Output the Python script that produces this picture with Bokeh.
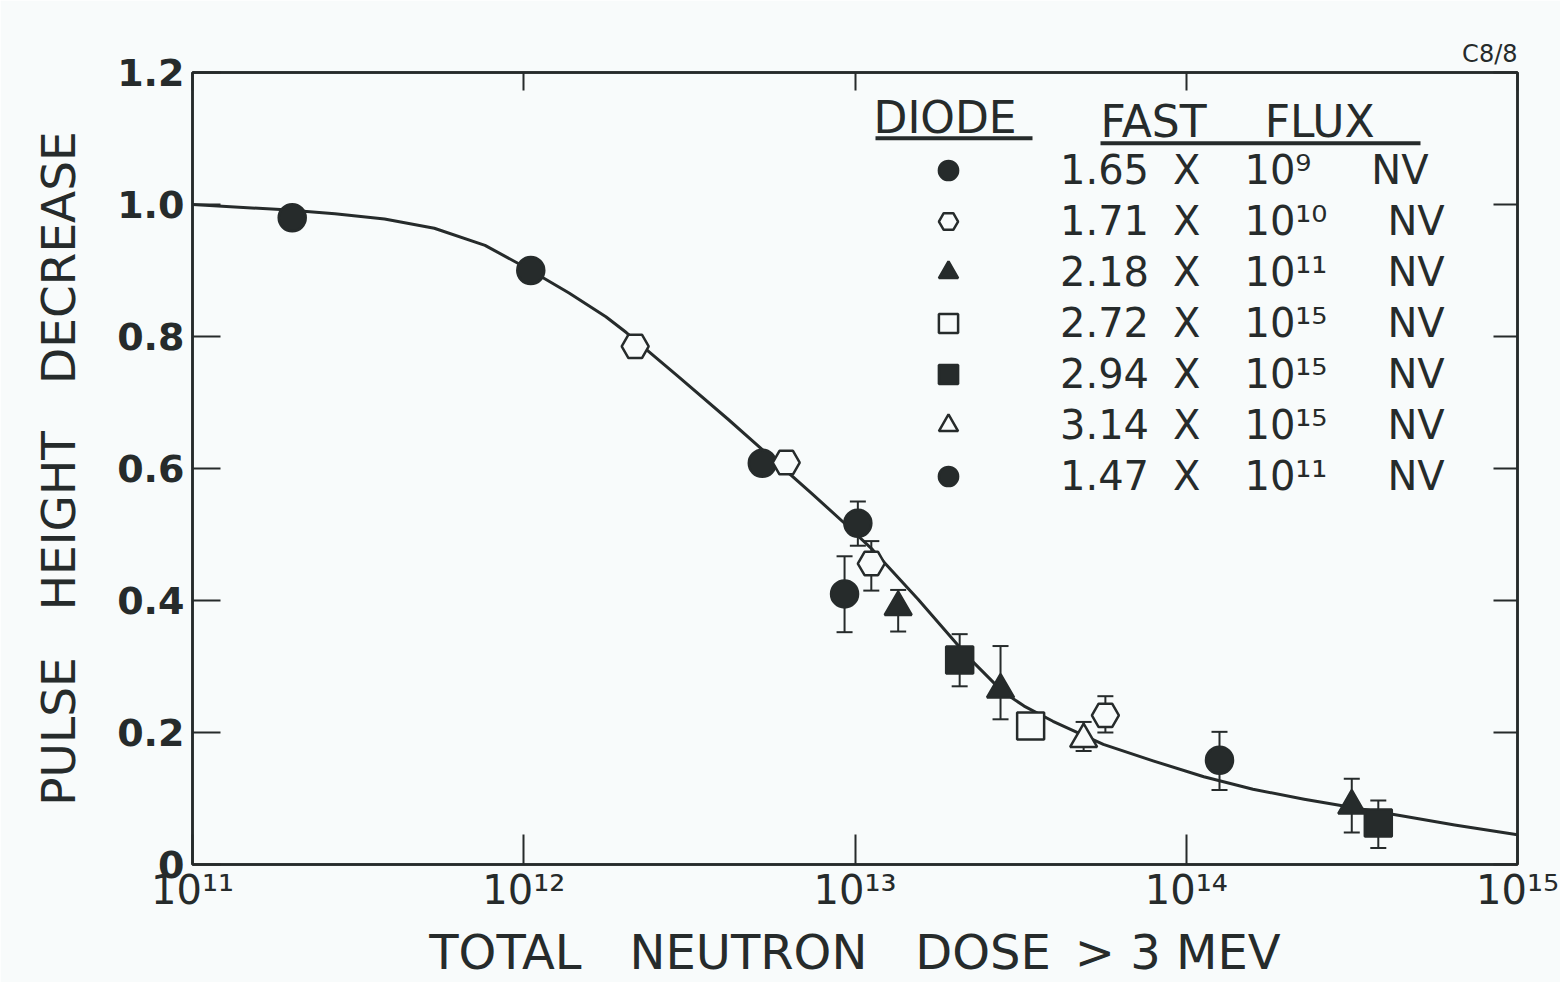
from bokeh.plotting import figure
from bokeh.models import (FixedTicker, LogAxis, LinearAxis, Legend, LegendItem, Label,
                          BoxAnnotation, Whisker, ColumnDataSource, TeeHead)
from bokeh.embed import file_html
from bokeh.resources import INLINE

# ---------------- data ----------------
curve_dose = [1.0e11, 1.9e11, 2.69e11, 3.8e11, 5.37e11, 7.64e11, 1.01e12, 1.37e12,
              1.77e12, 2.04e12, 2.9e12, 4.13e12, 5.21e12, 7.41e12, 9.44e12, 1.13e13,
              1.55e13, 2.19e13, 2.79e13, 3.24e13, 3.96e13, 5.62e13, 7.94e13, 1.13e14,
              1.59e14, 2.27e14, 3.21e14, 4.55e14, 6.46e14, 1.0e15]
curve_phd = [1.00, 0.992, 0.986, 0.978, 0.964, 0.938, 0.905, 0.866,
             0.83, 0.806, 0.741, 0.675, 0.630, 0.562, 0.514, 0.477,
             0.402, 0.315, 0.262, 0.240, 0.217, 0.182, 0.157, 0.133,
             0.114, 0.099, 0.086, 0.073, 0.060, 0.045]

flux_mantissa = ["1.65", "1.71", "2.18", "2.72", "2.94", "3.14", "1.47"]
flux_exponent = ["⁹", "¹⁰", "¹¹", "¹⁵", "¹⁵", "¹⁵", "¹¹"]
diode_markers = ["circle", "hex", "triangle", "square", "square", "triangle", "circle"]
diode_filled = [True, False, True, False, True, False, True]

dose_a = [2.0e11, 1.05e12, 5.25e12]
phd_a = [0.98, 0.90, 0.608]
dose_b = [2.17e12, 6.2e12, 1.12e13, 5.7e13]
phd_b = [0.785, 0.609, 0.456, 0.226]
dose_c = [1.35e13, 2.75e13, 3.16e14]
phd_c = [0.39, 0.265, 0.089]
dose_d = [3.39e13]
phd_d = [0.21]
dose_e = [2.07e13, 3.8e14]
phd_e = [0.31, 0.063]
dose_f = [4.9e13]
phd_f = [0.19]
dose_g = [1.02e13, 9.3e12, 1.26e14]
phd_g = [0.517, 0.41, 0.158]

err_dose = [1.02e13, 9.3e12, 1.12e13, 1.35e13, 2.07e13, 2.75e13, 4.9e13, 5.7e13,
            1.26e14, 3.16e14, 3.8e14]
err_lower = [0.483, 0.352, 0.415, 0.353, 0.27, 0.22, 0.172, 0.20, 0.113, 0.0485, 0.025]
err_upper = [0.55, 0.467, 0.49, 0.416, 0.349, 0.331, 0.216, 0.255, 0.201, 0.13, 0.097]

x_tick_values = [1e11, 1e12, 1e13, 1e14, 1e15]
x_tick_labels = ["10¹¹", "10¹²", "10¹³", "10¹⁴", "10¹⁵"]
y_tick_values = [0, 0.2, 0.4, 0.6, 0.8, 1.0, 1.2]
y_tick_labels = ["0", "0.2", "0.4", "0.6", "0.8", "1.0", "1.2"]

# ---------------- layout / styling ----------------
INK = "#262b2b"
BG = "#f8fbfb"
FONT = "DejaVu Sans"
W, H = 1560, 982
FL, FR, FT, FB = 192, 1517, 72, 866   # frame edges in page pixels


def dx(px):
    """page x pixel -> data x (log axis)"""
    return 10 ** (11 + (px - FL) * 4.0 / (FR - FL))


def dy(py):
    """page y pixel -> data y"""
    return (FB - py) * 1.2 / (FB - FT)


p = figure(width=W, height=H, x_axis_type="log", x_range=(1e11, 1e15), y_range=(0, 1.2),
           output_backend="svg", toolbar_location=None,
           min_border_left=FL, min_border_right=W - FR, min_border_top=FT,
           min_border_bottom=H - FB)
p.background_fill_color = BG
p.border_fill_color = BG
p.outline_line_color = INK
p.outline_line_width = 2.5
p.xgrid.visible = False
p.ygrid.visible = False

# corner tag, top right
p.title.text = "C8/8"
p.title.align = "right"
p.title.text_font = FONT
p.title.text_font_size = "24px"
p.title.text_font_style = "normal"
p.title.text_color = INK

# bottom axis
xa = p.xaxis[0]
xa.ticker = FixedTicker(ticks=x_tick_values)
xa.major_label_overrides = {v: t for v, t in zip(x_tick_values, x_tick_labels)}
xa.major_label_text_font = FONT
xa.major_label_text_font_size = "40px"
xa.major_label_text_color = INK
xa.major_label_standoff = 2
xa.major_tick_in = 30
xa.major_tick_out = 0
xa.minor_tick_in = 0
xa.minor_tick_out = 0
xa.axis_line_color = INK
xa.axis_line_width = 2.5
xa.major_tick_line_color = INK
xa.major_tick_line_width = 2
xa.axis_label = "TOTAL\u2003NEUTRON\u2003DOSE\u2002> 3 MEV"
xa.axis_label_text_font = FONT
xa.axis_label_text_font_style = "normal"
xa.axis_label_text_font_size = "48px"
xa.axis_label_text_color = INK
xa.axis_label_standoff = 8

# left axis
ya = p.yaxis[0]
ya.ticker = FixedTicker(ticks=y_tick_values)
ya.major_label_overrides = {v: t for v, t in zip(y_tick_values, y_tick_labels)}
ya.major_label_text_font = FONT
ya.major_label_text_font_size = "38px"
ya.major_label_text_font_style = "bold"
ya.major_label_text_color = INK
ya.major_label_standoff = 8
ya.major_tick_in = 28
ya.major_tick_out = 0
ya.minor_tick_in = 0
ya.minor_tick_out = 0
ya.axis_line_color = INK
ya.axis_line_width = 2.5
ya.major_tick_line_color = INK
ya.major_tick_line_width = 2
ya.axis_label = "PULSE\u2003HEIGHT\u2003DECREASE"
ya.axis_label_text_font = FONT
ya.axis_label_text_font_style = "normal"
ya.axis_label_text_font_size = "47px"
ya.axis_label_text_color = INK
ya.axis_label_standoff = 28

# top and right axes: ticks only
top = LogAxis(ticker=FixedTicker(ticks=x_tick_values), major_label_text_alpha=0,
              major_label_text_font_size="1px", major_label_standoff=0,
              major_tick_in=18, major_tick_out=0,
              minor_tick_in=0, minor_tick_out=0, axis_line_color=INK, axis_line_width=2.5,
              major_tick_line_color=INK, major_tick_line_width=2)
p.add_layout(top, "above")
right = LinearAxis(ticker=FixedTicker(ticks=y_tick_values), major_label_text_alpha=0,
                   major_label_text_font_size="1px", major_label_standoff=0,
                   major_tick_in=24, major_tick_out=0,
                   minor_tick_in=0, minor_tick_out=0, axis_line_color=INK, axis_line_width=2.5,
                   major_tick_line_color=INK, major_tick_line_width=2)
p.add_layout(right, "right")

# fitted curve
p.line(curve_dose, curve_phd, line_color=INK, line_width=3, line_join="round")

# error bars
err_src = ColumnDataSource(dict(x=err_dose, lower=err_lower, upper=err_upper))
wh = Whisker(source=err_src, base="x", lower="lower", upper="upper", dimension="height",
             line_color=INK, line_width=2,
             upper_head=TeeHead(size=16, line_color=INK, line_width=2),
             lower_head=TeeHead(size=16, line_color=INK, line_width=2))
p.add_layout(wh)

# data points by diode
series = [(dose_a, phd_a), (dose_b, phd_b), (dose_c, phd_c), (dose_d, phd_d),
          (dose_e, phd_e), (dose_f, phd_f), (dose_g, phd_g)]
items = []
for (xs, ys), mk, filled, m, e in zip(series, diode_markers, diode_filled,
                                      flux_mantissa, flux_exponent):
    r = p.scatter(xs, ys, marker=mk, size=27, line_color=INK, line_width=2.5,
                  fill_color=INK if filled else BG)
    label = f"{m}\u2002\u200aX\u2003\u200a10{e}\u2003\u2002NV"
    items.append(LegendItem(label=label, renderers=[r]))

legend = Legend(items=items, location=(732, 364), glyph_width=48, glyph_height=48,
                label_standoff=88, spacing=3, padding=0, margin=0,
                border_line_color=None, background_fill_alpha=0,
                label_text_font=FONT, label_text_font_size="40px", label_text_color=INK,
                label_text_baseline="middle")
p.add_layout(legend)

# legend header with underlines
p.add_layout(Label(x=dx(873), y=dy(117), text="DIODE",
                   text_font=FONT, text_font_size="44px", text_color=INK,
                   text_baseline="middle"))
p.add_layout(Label(x=dx(1100), y=dy(121), text="FAST\u2003 FLUX",
                   text_font=FONT, text_font_size="44px", text_color=INK,
                   text_baseline="middle"))
p.add_layout(BoxAnnotation(left=dx(875), right=dx(1032), bottom=dy(140), top=dy(136),
                           fill_color=INK, fill_alpha=1, line_alpha=0))
p.add_layout(BoxAnnotation(left=dx(1100), right=dx(1420), bottom=dy(145), top=dy(141),
                           fill_color=INK, fill_alpha=1, line_alpha=0))

open("out.html", "w").write(file_html(p, INLINE))
